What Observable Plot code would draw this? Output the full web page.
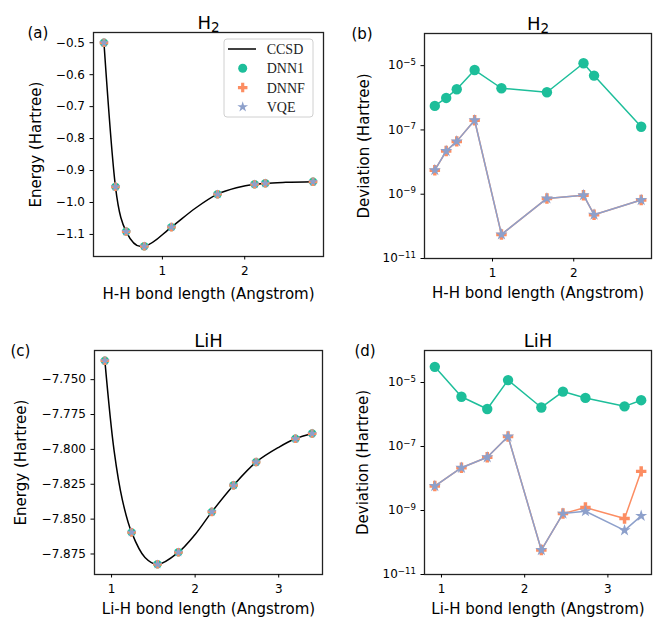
<!DOCTYPE html>
<html>
<head>
<meta charset="utf-8">
<script src="https://cdn.jsdelivr.net/npm/d3@7"></script>
<script src="https://cdn.jsdelivr.net/npm/@observablehq/plot@0.6"></script>
<style>
  body { margin: 0; background: white; }
  #wrap { position: relative; width: 654px; height: 618px; background: white; }
  #wrap svg { position: absolute; }
</style>
</head>
<body>
<div id="wrap"></div>
<script>
// ---------- data ----------
const seriesNames = ["CCSD", "DNN1", "DNNF", "VQE"];
const colors = {DNN1: "#1dbe9a", DNNF: "#fc8d62", VQE: "#8da0cb"};

// H2
const h2X = [0.29, 0.43, 0.56, 0.78, 1.11, 1.67, 2.12, 2.25, 2.83];
const h2E = [-0.500, -0.951, -1.091, -1.137, -1.077, -0.974, -0.943, -0.940, -0.935];
const h2CcsdX = [0.29, 0.43, 0.56, 0.74, 0.78, 1.11, 1.40, 1.67, 1.90, 2.12, 2.25, 2.50, 2.83];
const h2CcsdE = [-0.500, -0.951, -1.091, -1.138, -1.137, -1.077, -1.018, -0.974, -0.954, -0.943, -0.940, -0.937, -0.935];
const h2DevDNN1 = [5.6e-7, 9.9e-7, 1.84e-6, 7.3e-6, 1.98e-6, 1.49e-6, 1.19e-5, 4.9e-6, 1.26e-7];
const h2DevDNNF = [5.6e-9, 2.2e-8, 4.4e-8, 2.0e-7, 5.6e-11, 7.4e-10, 9.3e-10, 2.3e-10, 6.6e-10];
const h2DevVQE  = [5.6e-9, 2.2e-8, 4.4e-8, 2.0e-7, 5.6e-11, 7.4e-10, 9.3e-10, 2.3e-10, 6.6e-10];

// LiH
const liX = [0.92, 1.24, 1.55, 1.80, 2.20, 2.46, 2.73, 3.20, 3.40];
const liE = [-7.7364, -7.8595, -7.8824, -7.8738, -7.8448, -7.8257, -7.8091, -7.7924, -7.7886];
const liCcsdX = [0.92, 1.03, 1.13, 1.24, 1.40, 1.55, 1.80, 2.00, 2.20, 2.46, 2.73, 3.00, 3.20, 3.40];
const liCcsdE = [-7.7364, -7.8007, -7.8364, -7.8595, -7.8775, -7.8825, -7.8738, -7.8610, -7.8448, -7.8257, -7.8091, -7.7985, -7.7924, -7.7886];
const liDevDNN1 = [3.08e-5, 3.6e-6, 1.49e-6, 1.19e-5, 1.66e-6, 5.2e-6, 3.3e-6, 1.8e-6, 2.8e-6];
const liDevDNNF = [5.8e-9, 2.17e-8, 4.6e-8, 2.05e-7, 5.8e-11, 8.0e-10, 1.24e-9, 5.6e-10, 1.67e-8];
const liDevVQE  = [5.8e-9, 2.17e-8, 4.6e-8, 2.05e-7, 5.8e-11, 8.0e-10, 9.5e-10, 2.4e-10, 6.8e-10];

const energyTicksH2 = [-1.1, -1.0, -0.9, -0.8, -0.7, -0.6, -0.5];
const energyTicksLi = [-7.875, -7.850, -7.825, -7.800, -7.775, -7.750];
const devTicks = [1e-11, 1e-9, 1e-7, 1e-5];

// ---------- helpers ----------
const logFmt = d => "10^" + Math.round(Math.log10(d));
const rows = (xs, ys) => xs.map((x, i) => ({x, y: ys[i]}));

const FONT = "DejaVu Sans";
const wrap = document.getElementById("wrap");

function panel(o) {
  const m = o.m; // [top,right,bottom,left]
  const marks = [
    Plot.frame({stroke: "#222", strokeWidth: 1.3}),
    Plot.axisX({ticks: o.xTicks, tickFormat: d3.format("d"), tickSize: 3.5, tickPadding: 6, label: null, fontSize: 12}),
    Plot.axisY({ticks: o.yTicks, tickFormat: o.yFmt, tickSize: 3.5, tickPadding: 5, label: null, fontSize: 12}),
    ...o.marks,
    Plot.text([o.title], {frameAnchor: "top", dy: o.titleDy, lineAnchor: "bottom", fontSize: 18, text: d => d}),
    Plot.text([o.tag], {frameAnchor: "top-left", dx: o.tagDx, dy: o.tagDy, textAnchor: "start", lineAnchor: "bottom", fontSize: 15, text: d => d}),
    Plot.text([o.ylabel], {frameAnchor: "left", dx: o.ylDx, rotate: -90, textAnchor: "middle", lineAnchor: "middle", fontSize: 15, text: d => d}),
    Plot.text([o.xlabel], {frameAnchor: "bottom", dy: o.xlDy, lineAnchor: "bottom", fontSize: 15, text: d => d})
  ];
  const svg = Plot.plot({
    width: 327, height: 309,
    marginTop: m[0], marginRight: m[1], marginBottom: m[2], marginLeft: m[3],
    x: {domain: o.xDomain},
    y: o.yScale,
    style: {fontFamily: FONT, fontSize: "12px", color: "black", background: "white", overflow: "visible"},
    marks
  });
  svg.style.left = o.left + "px";
  svg.style.top = o.top + "px";
  wrap.appendChild(svg);
  // typographic touch-ups: subscripts in titles, superscripts in log tick labels
  d3.select(svg).selectAll("text").each(function () {
    const t = this.textContent;
    const sel = d3.select(this);
    if (t === "H_2") {
      sel.text("H");
      sel.append("tspan").attr("font-size", "75%").attr("dy", "0.28em").text("2");
    } else {
      const mm = /^10\^(-?\d+)$/.exec(t);
      if (mm) {
        sel.text("10");
        sel.append("tspan").attr("font-size", "72%").attr("dy", "-0.55em").text(mm[1].replace("-", "\u2212"));
      }
    }
  });
  return svg;
}

function energyMarks(xs, es, cx, ce, curve) {
  const pts = rows(xs, es);
  return [
    Plot.line(rows(cx, ce), {x: "x", y: "y", curve, stroke: "black", strokeWidth: 1.5}),
    Plot.dot(pts, {x: "x", y: "y", symbol: "circle", r: 4.2, fill: colors.DNN1, stroke: "none"}),
    Plot.dot(pts, {x: "x", y: "y", symbol: "cross", r: 3.6, fill: colors.DNNF, stroke: "none"}),
    Plot.dot(pts, {x: "x", y: "y", symbol: "star", r: 3.0, fill: colors.VQE, stroke: "none"})
  ];
}

function devMarks(xs, dnn1, dnnf, vqe) {
  const a = rows(xs, dnn1), b = rows(xs, dnnf), c = rows(xs, vqe);
  return [
    Plot.line(a, {x: "x", y: "y", stroke: colors.DNN1, strokeWidth: 1.5}),
    Plot.dot(a, {x: "x", y: "y", symbol: "circle", r: 5.2, fill: colors.DNN1, stroke: "none"}),
    Plot.line(b, {x: "x", y: "y", stroke: colors.DNNF, strokeWidth: 1.5}),
    Plot.dot(b, {x: "x", y: "y", symbol: "cross", r: 4.4, fill: colors.DNNF, stroke: "none"}),
    Plot.line(c, {x: "x", y: "y", stroke: colors.VQE, strokeWidth: 1.5}),
    Plot.dot(c, {x: "x", y: "y", symbol: "star", r: 3.8, fill: colors.VQE, stroke: "none"})
  ];
}

const h2XDomain = [0.163, 2.957];
const liXDomain = [0.796, 3.524];
const logScale = {type: "log", domain: [1e-11, 1e-4]};

// (a)
const svgA = panel({
  left: 0, top: 0, m: [32, 4, 53, 93],
  xDomain: h2XDomain, xTicks: [1, 2],
  yScale: {domain: [-1.169, -0.468]}, yTicks: energyTicksH2, yFmt: d3.format(".1f"),
  marks: energyMarks(h2X, h2E, h2CcsdX, h2CcsdE, "monotone-x"),
  title: "H_2", titleDy: -4, tag: "(a)", tagDx: -66, tagDy: 5,
  ylabel: "Energy (Hartree)", ylDx: -57, xlabel: "H-H bond length (Angstrom)", xlDy: 42
});
// (b)
panel({
  left: 327, top: 0, m: [33, 3, 51, 97],
  xDomain: h2XDomain, xTicks: [1, 2],
  yScale: logScale, yTicks: devTicks, yFmt: logFmt,
  marks: devMarks(h2X, h2DevDNN1, h2DevDNNF, h2DevVQE),
  title: "H_2", titleDy: -4, tag: "(b)", tagDx: -73, tagDy: 5,
  ylabel: "Deviation (Hartree)", ylDx: -60, xlabel: "H-H bond length (Angstrom)", xlDy: 39.5
});
// (c)
panel({
  left: 0, top: 309, m: [41, 5, 44, 94],
  xDomain: liXDomain, xTicks: [1, 2, 3],
  yScale: {domain: [-7.8897, -7.7291]}, yTicks: energyTicksLi, yFmt: d3.format(".3f"),
  marks: energyMarks(liX, liE, liCcsdX, liCcsdE, "catmull-rom"),
  title: "LiH", titleDy: -4, tag: "(c)", tagDx: -84, tagDy: 5,
  ylabel: "Energy (Hartree)", ylDx: -73, xlabel: "Li-H bond length (Angstrom)", xlDy: 39
});
// (d)
panel({
  left: 327, top: 309, m: [41, 3, 44, 97],
  xDomain: liXDomain, xTicks: [1, 2, 3],
  yScale: logScale, yTicks: devTicks, yFmt: logFmt,
  marks: devMarks(liX, liDevDNN1, liDevDNNF, liDevVQE),
  title: "LiH", titleDy: -4, tag: "(d)", tagDx: -70, tagDy: 5,
  ylabel: "Deviation (Hartree)", ylDx: -61, xlabel: "Li-H bond length (Angstrom)", xlDy: 39
});

// ---------- legend in panel (a) ----------
const lg = d3.select(svgA).append("g").attr("transform", "translate(224,39)");
lg.append("rect").attr("width", 89).attr("height", 78).attr("rx", 3)
  .attr("fill", "white").attr("fill-opacity", 0.85).attr("stroke", "#d0d0d0").attr("stroke-width", 1);
const symMap = {DNN1: [d3.symbolCircle, 4.5], DNNF: [d3.symbolCross, 4.0], VQE: [d3.symbolStar, 3.4]};
seriesNames.forEach((name, i) => {
  const y = 10 + i * 19.3;
  if (name === "CCSD") {
    lg.append("line").attr("x1", 4).attr("x2", 32).attr("y1", y).attr("y2", y)
      .attr("stroke", "black").attr("stroke-width", 1.5);
  } else {
    const [s, r] = symMap[name];
    lg.append("path").attr("transform", `translate(18.7,${y})`)
      .attr("d", d3.symbol(s, Math.PI * r * r)()).attr("fill", colors[name]);
  }
  lg.append("text").attr("x", 42.7).attr("y", y).attr("dy", "0.35em")
    .attr("text-anchor", "start")
    .attr("font-family", "Liberation Serif, Times New Roman, serif").attr("font-size", 14)
    .attr("fill", "#222").text(name);
});
</script>
</body>
</html>
